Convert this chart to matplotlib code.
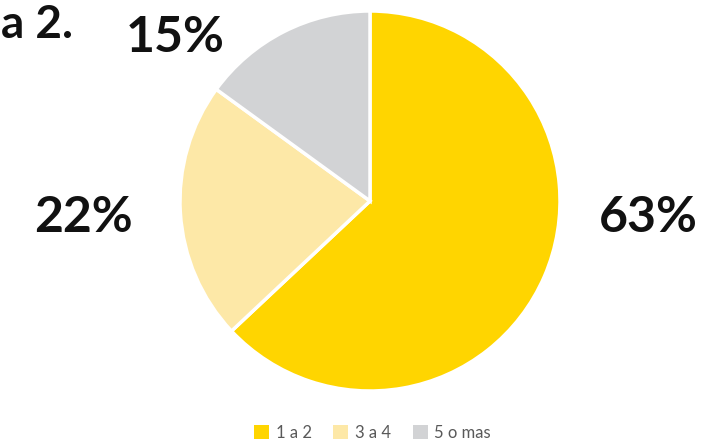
import matplotlib.pyplot as plt
from matplotlib.patches import Patch

categories = ["1 a 2", "3 a 4", "5 o mas"]
values = [63, 22, 15]
colors = ["#FFD500", "#FDE8A7", "#D2D3D5"]

# where each percentage label sits (pixels, from top-left)
label_pos = [(648, 218), (83, 218), (175, 38)]

plt.rcParams['font.family'] = ['Lato', 'DejaVu Sans']

W, H = 723, 447
fig = plt.figure(figsize=(W / 100, H / 100), dpi=100)
ax = fig.add_axes([0, 0, 1, 1])
ax.set_xlim(0, W)
ax.set_ylim(0, H)
ax.set_aspect('equal')
ax.axis('off')

ax.pie(values, colors=colors, startangle=90, counterclock=False,
       center=(370, H - 201), radius=190,
       wedgeprops=dict(edgecolor='white', linewidth=2.5))
ax.set_xlim(0, W)
ax.set_ylim(0, H)

total = sum(values)
for v, (x, y) in zip(values, label_pos):
    ax.text(x, H - y, f"{round(v / total * 100)}%", fontsize=36,
            fontweight='bold', color='#111111', ha='center', va='center')

# part of the title left of the chart
ax.text(1, H - 25, "a 2.", fontsize=33, fontweight='bold',
        color='#111111', ha='left', va='center')

handles = [Patch(facecolor=c, edgecolor='none') for c in colors]
fig.legend(handles, categories, loc='lower center', bbox_to_anchor=(0.515, -0.02),
           ncol=3, frameon=False, fontsize=12, handlelength=0.9, handleheight=0.9,
           handletextpad=0.4, columnspacing=1.3, labelcolor='#595959')

fig.savefig("out.png", dpi=100)
